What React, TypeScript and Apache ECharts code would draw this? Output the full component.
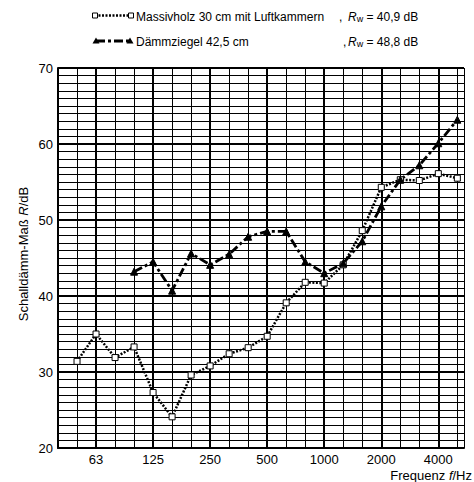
import React, { useEffect, useRef } from "react";
import * as echarts from "echarts";

// Third-octave band centre frequencies (axis positions = band index)
const bands = ["40", "50", "63", "80", "100", "125", "160", "200", "250", "315", "400", "500", "630", "800", "1000", "1250", "1600", "2000", "2500", "3150", "4000", "5000"];
const octaveLabels = ["63", "125", "250", "500", "1000", "2000", "4000"];
const yTicks = [20, 30, 40, 50, 60, 70];

// Massivholz 30 cm mit Luftkammern (50 Hz … 5000 Hz)
const massivholzFreqs = ["50", "63", "80", "100", "125", "160", "200", "250", "315", "400", "500", "630", "800", "1000", "1250", "1600", "2000", "2500", "3150", "4000", "5000"];
const massivholz = [31.4, 35.0, 31.9, 33.3, 27.3, 24.1, 29.6, 30.8, 32.4, 33.2, 34.7, 39.1, 41.8, 41.7, 44.1, 48.6, 54.3, 55.3, 55.2, 56.1, 55.5];

// Dämmziegel 42,5 cm (100 Hz … 5000 Hz)
const daemmFreqs = ["100", "125", "160", "200", "250", "315", "400", "500", "630", "800", "1000", "1250", "1600", "2000", "2500", "3150", "4000", "5000"];
const daemm = [43.2, 44.5, 40.7, 45.6, 44.1, 45.5, 47.8, 48.5, 48.5, 44.5, 43.0, 44.3, 47.2, 51.8, 55.3, 57.2, 60.1, 63.2];

const FONT = "'Liberation Sans', Arial, sans-serif";

export default function App() {
  const ref = useRef<HTMLDivElement>(null);
  useEffect(() => {
    if (!ref.current) return;
    const chart = echarts.init(ref.current, undefined, { renderer: "svg" });
    const octIdx = octaveLabels.map((l) => bands.indexOf(l));
    const rwRich = {
      i: { fontStyle: "italic", fontSize: 12, fontFamily: FONT, fill: "#000" },
      w: { fontSize: 9, fontFamily: FONT, padding: [5, 0, 0, 0], fill: "#000" },
      a: { fontSize: 12, fontFamily: FONT, fill: "#000" },
    };
    chart.setOption({
      animation: false,
      backgroundColor: "#fff",
      grid: { left: 58, right: 10, top: 68, bottom: 34, containLabel: false },
      xAxis: {
        type: "value",
        min: 0,
        max: 21.35,
        interval: 1,
        axisLine: { show: true, lineStyle: { color: "#000", width: 2 } },
        axisTick: { show: false },
        splitLine: { show: true, lineStyle: { color: "#000", width: 1 } },
        axisLabel: {
          margin: 5,
          fontSize: 13,
          color: "#000",
          fontFamily: FONT,
          formatter: (v: number) => {
            const b = bands[Math.round(v)];
            return Math.abs(v - Math.round(v)) < 1e-6 && octaveLabels.includes(b) ? b : "";
          },
        },
      },
      yAxis: {
        type: "value",
        min: yTicks[0],
        max: yTicks[yTicks.length - 1],
        interval: 10,
        axisLine: { show: true, lineStyle: { color: "#000", width: 2 } },
        axisTick: { show: false },
        minorTick: { show: false, splitNumber: 10 },
        splitLine: { show: true, lineStyle: { color: "#000", width: 2 } },
        minorSplitLine: { show: true, lineStyle: { color: "#000", width: 1 } },
        axisLabel: { margin: 5, fontSize: 13, color: "#000", fontFamily: FONT },
      },
      series: [
        {
          name: "Massivholz 30 cm mit Luftkammern",
          type: "line",
          z: 3,
          data: massivholzFreqs.map((f, i) => [bands.indexOf(f), massivholz[i]]),
          symbol: "rect",
          symbolSize: 6,
          itemStyle: { color: "#fff", borderColor: "#000", borderWidth: 1 },
          lineStyle: { color: "#000", width: 2.5, type: [2, 1.5], cap: "butt" },
          markLine: {
            silent: true,
            z: 1,
            symbol: ["none", "none"],
            label: { show: false },
            lineStyle: { color: "#000", width: 2, type: "solid" },
            data: octIdx.map((i) => ({ xAxis: i })),
          },
        },
        {
          name: "Dämmziegel 42,5 cm",
          type: "line",
          z: 3,
          data: daemmFreqs.map((f, i) => [bands.indexOf(f), daemm[i]]),
          symbol: "triangle",
          symbolSize: 7,
          itemStyle: { color: "#000", borderColor: "#000" },
          lineStyle: { color: "#000", width: 2.8, type: [9, 3, 3, 3], cap: "butt" },
        },
      ],
      graphic: [
        // Legend line 1
        { type: "polyline", shape: { points: [[95, 15.5], [131, 15.5]] }, style: { stroke: "#000", lineWidth: 2.5, lineDash: [2, 1.5], fill: null } },
        { type: "rect", shape: { x: 92.5, y: 13, width: 5, height: 5 }, style: { fill: "#fff", stroke: "#000", lineWidth: 1 } },
        { type: "rect", shape: { x: 128.5, y: 13, width: 5, height: 5 }, style: { fill: "#fff", stroke: "#000", lineWidth: 1 } },
        { type: "text", x: 136, y: 16.5, style: { text: "Massivholz 30 cm mit Luftkammern", font: `12px ${FONT}`, fill: "#000", verticalAlign: "middle", align: "left" } },
        { type: "text", x: 339, y: 16.5, style: { text: ",", font: `12px ${FONT}`, fill: "#000", verticalAlign: "middle" } },
        { type: "text", x: 348, y: 16.5, style: { text: "{i|R}{w|w}{a| = 40,9 dB}", rich: rwRich, verticalAlign: "middle", fill: "#000" } },
        // Legend line 2
        { type: "polyline", shape: { points: [[96, 41], [130, 41]] }, style: { stroke: "#000", lineWidth: 2.8, lineDash: [9, 3, 3, 3], fill: null } },
        { type: "polygon", shape: { points: [[96, 37.5], [92.5, 43.5], [99.5, 43.5]] }, style: { fill: "#000" } },
        { type: "polygon", shape: { points: [[130, 37.5], [126.5, 43.5], [133.5, 43.5]] }, style: { fill: "#000" } },
        { type: "text", x: 136, y: 41.5, style: { text: "Dämmziegel 42,5 cm", font: `12px ${FONT}`, fill: "#000", verticalAlign: "middle", align: "left" } },
        { type: "text", x: 343, y: 41.5, style: { text: ",", font: `12px ${FONT}`, fill: "#000", verticalAlign: "middle" } },
        { type: "text", x: 348, y: 41.5, style: { text: "{i|R}{w|w}{a| = 48,8 dB}", rich: rwRich, verticalAlign: "middle", fill: "#000" } },
        // Axis names
        {
          type: "text",
          x: 23,
          y: 254,
          rotation: Math.PI / 2,
          style: {
            text: "{a|Schalldämm-Maß }{i|R}{a|/dB}",
            rich: {
              a: { fontSize: 13, fontFamily: FONT, fill: "#000" },
              i: { fontSize: 13, fontFamily: FONT, fontStyle: "italic", fill: "#000" },
            },
            align: "center",
            verticalAlign: "middle",
          },
        },
        {
          type: "text",
          x: 472,
          y: 475,
          style: {
            text: "{a|Frequenz }{i|f}{a|/Hz}",
            rich: {
              a: { fontSize: 13, fontFamily: FONT, fill: "#000" },
              i: { fontSize: 13, fontFamily: FONT, fontStyle: "italic", fill: "#000" },
            },
            align: "right",
            verticalAlign: "middle",
          },
        },
      ],
    });
    return () => chart.dispose();
  }, []);
  return <div ref={ref} style={{ position: "fixed", left: 0, top: 0, width: 474, height: 482 }} />;
}
